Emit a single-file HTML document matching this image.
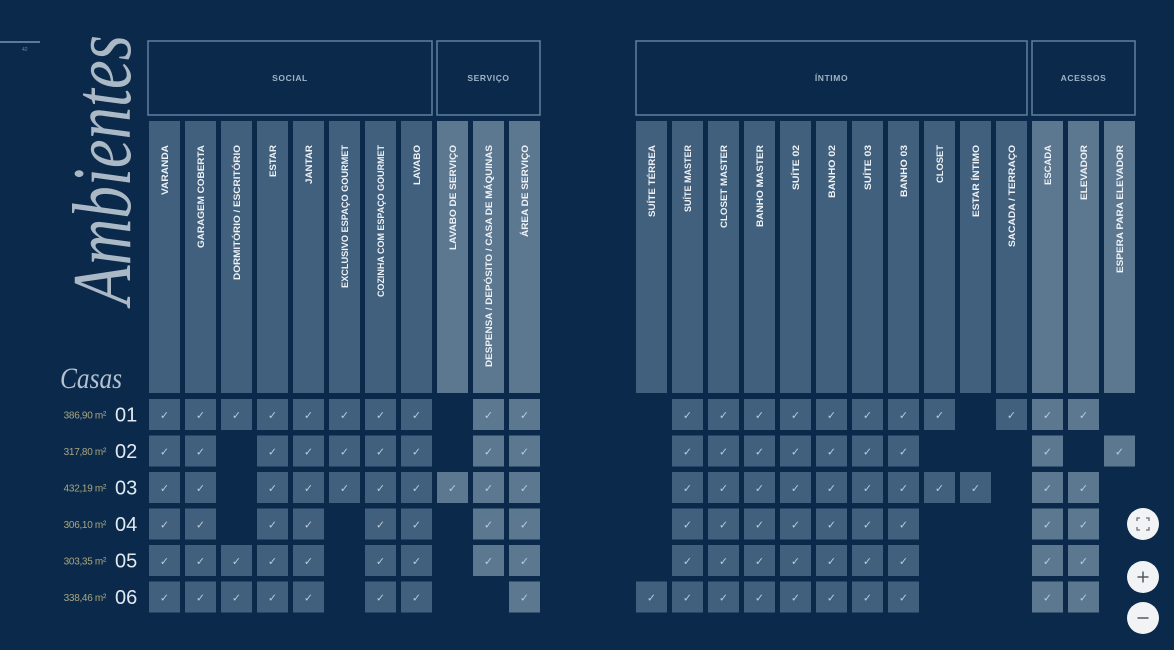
<!DOCTYPE html>
<html><head><meta charset="utf-8">
<style>
html,body{margin:0;padding:0;background:#0b2a4b;}
svg{display:block;}
.d{fill:#41607d;}
.l{fill:#5c7891;}
.c{font-family:"DejaVu Sans",sans-serif;font-size:11px;fill:#bccad7;text-anchor:middle;}
.cl{font-family:"Liberation Sans",sans-serif;font-weight:bold;font-size:9.5px;fill:#eef2f6;}
.hb{fill:none;stroke:#5b7b99;stroke-width:1.6;}
.ht{font-family:"Liberation Sans",sans-serif;font-weight:bold;font-size:8.5px;fill:#9fb3c6;text-anchor:middle;letter-spacing:0.6px;}
.ar{font-family:"Liberation Sans",sans-serif;font-size:10px;fill:#a9a67e;text-anchor:end;letter-spacing:-0.3px;}
.nm{font-family:"Liberation Sans",sans-serif;font-size:20px;fill:#e3e9ef;}
</style></head>
<body>
<svg width="1174" height="650" viewBox="0 0 1174 650" xmlns="http://www.w3.org/2000/svg">
<rect width="1174" height="650" fill="#0b2a4b"/>
<rect x="0" y="41" width="40" height="2" fill="#5d7b96"/>
<text x="22" y="51" font-family="Liberation Sans" font-size="5" fill="#7088a0">42</text>

<!-- Script titles -->
<text transform="translate(130,305) rotate(-90)" font-family="Liberation Serif" font-style="italic" font-size="84" textLength="270" lengthAdjust="spacingAndGlyphs" fill="#d3dce5" fill-opacity="0.8">Ambientes</text>
<text x="60" y="388" font-family="Liberation Serif" font-style="italic" font-size="30" textLength="62" lengthAdjust="spacingAndGlyphs" fill="#d3dce5" fill-opacity="0.85">Casas</text>

<!-- Header boxes -->
<rect class="hb" x="148" y="41" width="284" height="74"/>
<rect class="hb" x="437" y="41" width="103" height="74"/>
<rect class="hb" x="636" y="41" width="391" height="74"/>
<rect class="hb" x="1032" y="41" width="103" height="74"/>
<text class="ht" x="290" y="81">SOCIAL</text>
<text class="ht" x="488.5" y="81">SERVIÇO</text>
<text class="ht" x="831.5" y="81">ÍNTIMO</text>
<text class="ht" x="1083.5" y="81">ACESSOS</text>

<!-- Column bars left -->
<rect class="d" x="149" y="121" width="31" height="272"/>
<rect class="d" x="185" y="121" width="31" height="272"/>
<rect class="d" x="221" y="121" width="31" height="272"/>
<rect class="d" x="257" y="121" width="31" height="272"/>
<rect class="d" x="293" y="121" width="31" height="272"/>
<rect class="d" x="329" y="121" width="31" height="272"/>
<rect class="d" x="365" y="121" width="31" height="272"/>
<rect class="d" x="401" y="121" width="31" height="272"/>
<rect class="l" x="437" y="121" width="31" height="272"/>
<rect class="l" x="473" y="121" width="31" height="272"/>
<rect class="l" x="509" y="121" width="31" height="272"/>
<!-- Column bars right -->
<rect class="d" x="636" y="121" width="31" height="272"/>
<rect class="d" x="672" y="121" width="31" height="272"/>
<rect class="d" x="708" y="121" width="31" height="272"/>
<rect class="d" x="744" y="121" width="31" height="272"/>
<rect class="d" x="780" y="121" width="31" height="272"/>
<rect class="d" x="816" y="121" width="31" height="272"/>
<rect class="d" x="852" y="121" width="31" height="272"/>
<rect class="d" x="888" y="121" width="31" height="272"/>
<rect class="d" x="924" y="121" width="31" height="272"/>
<rect class="d" x="960" y="121" width="31" height="272"/>
<rect class="d" x="996" y="121" width="31" height="272"/>
<rect class="l" x="1032" y="121" width="31" height="272"/>
<rect class="l" x="1068" y="121" width="31" height="272"/>
<rect class="l" x="1104" y="121" width="31" height="272"/>

<!-- Column labels left -->
<text class="cl" transform="translate(168,195) rotate(-90)" textLength="50" lengthAdjust="spacingAndGlyphs">VARANDA</text>
<text class="cl" transform="translate(204,248) rotate(-90)" textLength="103" lengthAdjust="spacingAndGlyphs">GARAGEM COBERTA</text>
<text class="cl" transform="translate(240,280) rotate(-90)" textLength="135" lengthAdjust="spacingAndGlyphs">DORMITÓRIO / ESCRITÓRIO</text>
<text class="cl" transform="translate(276,177) rotate(-90)" textLength="32" lengthAdjust="spacingAndGlyphs">ESTAR</text>
<text class="cl" transform="translate(312,184) rotate(-90)" textLength="39" lengthAdjust="spacingAndGlyphs">JANTAR</text>
<text class="cl" transform="translate(348,288) rotate(-90)" textLength="143" lengthAdjust="spacingAndGlyphs">EXCLUSIVO ESPAÇO GOURMET</text>
<text class="cl" transform="translate(384,297) rotate(-90)" textLength="152" lengthAdjust="spacingAndGlyphs">COZINHA COM ESPAÇO GOURMET</text>
<text class="cl" transform="translate(420,185) rotate(-90)" textLength="40" lengthAdjust="spacingAndGlyphs">LAVABO</text>
<text class="cl" transform="translate(456,250) rotate(-90)" textLength="105" lengthAdjust="spacingAndGlyphs">LAVABO DE SERVIÇO</text>
<text class="cl" transform="translate(492,367) rotate(-90)" textLength="222" lengthAdjust="spacingAndGlyphs">DESPENSA / DEPÓSITO / CASA DE MÁQUINAS</text>
<text class="cl" transform="translate(528,237) rotate(-90)" textLength="92" lengthAdjust="spacingAndGlyphs">ÁREA DE SERVIÇO</text>
<!-- Column labels right -->
<text class="cl" transform="translate(655,217) rotate(-90)" textLength="72" lengthAdjust="spacingAndGlyphs">SUÍTE TÉRREA</text>
<text class="cl" transform="translate(691,212) rotate(-90)" textLength="67" lengthAdjust="spacingAndGlyphs">SUÍTE MASTER</text>
<text class="cl" transform="translate(727,228) rotate(-90)" textLength="83" lengthAdjust="spacingAndGlyphs">CLOSET MASTER</text>
<text class="cl" transform="translate(763,227) rotate(-90)" textLength="82" lengthAdjust="spacingAndGlyphs">BANHO MASTER</text>
<text class="cl" transform="translate(799,190) rotate(-90)" textLength="45" lengthAdjust="spacingAndGlyphs">SUÍTE 02</text>
<text class="cl" transform="translate(835,198) rotate(-90)" textLength="53" lengthAdjust="spacingAndGlyphs">BANHO 02</text>
<text class="cl" transform="translate(871,190) rotate(-90)" textLength="45" lengthAdjust="spacingAndGlyphs">SUÍTE 03</text>
<text class="cl" transform="translate(907,197) rotate(-90)" textLength="52" lengthAdjust="spacingAndGlyphs">BANHO 03</text>
<text class="cl" transform="translate(943,183) rotate(-90)" textLength="38" lengthAdjust="spacingAndGlyphs">CLOSET</text>
<text class="cl" transform="translate(979,217) rotate(-90)" textLength="72" lengthAdjust="spacingAndGlyphs">ESTAR ÍNTIMO</text>
<text class="cl" transform="translate(1015,247) rotate(-90)" textLength="102" lengthAdjust="spacingAndGlyphs">SACADA / TERRAÇO</text>
<text class="cl" transform="translate(1051,185) rotate(-90)" textLength="40" lengthAdjust="spacingAndGlyphs">ESCADA</text>
<text class="cl" transform="translate(1087,200) rotate(-90)" textLength="55" lengthAdjust="spacingAndGlyphs">ELEVADOR</text>
<text class="cl" transform="translate(1123,273) rotate(-90)" textLength="128" lengthAdjust="spacingAndGlyphs">ESPERA PARA ELEVADOR</text>

<!-- Row labels -->
<text class="ar" x="106" y="418.5">386,90 m²</text><text class="nm" x="115" y="421.5">01</text>
<text class="ar" x="106" y="455">317,80 m²</text><text class="nm" x="115" y="458">02</text>
<text class="ar" x="106" y="491.5">432,19 m²</text><text class="nm" x="115" y="494.5">03</text>
<text class="ar" x="106" y="528">306,10 m²</text><text class="nm" x="115" y="531">04</text>
<text class="ar" x="106" y="564.5">303,35 m²</text><text class="nm" x="115" y="567.5">05</text>
<text class="ar" x="106" y="601">338,46 m²</text><text class="nm" x="115" y="604">06</text>

<!-- Row 01 -->
<rect class="d" x="149" y="399" width="31" height="31"/><text class="c" x="164.5" y="419">✓</text>
<rect class="d" x="185" y="399" width="31" height="31"/><text class="c" x="200.5" y="419">✓</text>
<rect class="d" x="221" y="399" width="31" height="31"/><text class="c" x="236.5" y="419">✓</text>
<rect class="d" x="257" y="399" width="31" height="31"/><text class="c" x="272.5" y="419">✓</text>
<rect class="d" x="293" y="399" width="31" height="31"/><text class="c" x="308.5" y="419">✓</text>
<rect class="d" x="329" y="399" width="31" height="31"/><text class="c" x="344.5" y="419">✓</text>
<rect class="d" x="365" y="399" width="31" height="31"/><text class="c" x="380.5" y="419">✓</text>
<rect class="d" x="401" y="399" width="31" height="31"/><text class="c" x="416.5" y="419">✓</text>
<rect class="l" x="473" y="399" width="31" height="31"/><text class="c" x="488.5" y="419">✓</text>
<rect class="l" x="509" y="399" width="31" height="31"/><text class="c" x="524.5" y="419">✓</text>
<rect class="d" x="672" y="399" width="31" height="31"/><text class="c" x="687.5" y="419">✓</text>
<rect class="d" x="708" y="399" width="31" height="31"/><text class="c" x="723.5" y="419">✓</text>
<rect class="d" x="744" y="399" width="31" height="31"/><text class="c" x="759.5" y="419">✓</text>
<rect class="d" x="780" y="399" width="31" height="31"/><text class="c" x="795.5" y="419">✓</text>
<rect class="d" x="816" y="399" width="31" height="31"/><text class="c" x="831.5" y="419">✓</text>
<rect class="d" x="852" y="399" width="31" height="31"/><text class="c" x="867.5" y="419">✓</text>
<rect class="d" x="888" y="399" width="31" height="31"/><text class="c" x="903.5" y="419">✓</text>
<rect class="d" x="924" y="399" width="31" height="31"/><text class="c" x="939.5" y="419">✓</text>
<rect class="d" x="996" y="399" width="31" height="31"/><text class="c" x="1011.5" y="419">✓</text>
<rect class="l" x="1032" y="399" width="31" height="31"/><text class="c" x="1047.5" y="419">✓</text>
<rect class="l" x="1068" y="399" width="31" height="31"/><text class="c" x="1083.5" y="419">✓</text>

<!-- Row 02 -->
<rect class="d" x="149" y="435.5" width="31" height="31"/><text class="c" x="164.5" y="455.5">✓</text>
<rect class="d" x="185" y="435.5" width="31" height="31"/><text class="c" x="200.5" y="455.5">✓</text>
<rect class="d" x="257" y="435.5" width="31" height="31"/><text class="c" x="272.5" y="455.5">✓</text>
<rect class="d" x="293" y="435.5" width="31" height="31"/><text class="c" x="308.5" y="455.5">✓</text>
<rect class="d" x="329" y="435.5" width="31" height="31"/><text class="c" x="344.5" y="455.5">✓</text>
<rect class="d" x="365" y="435.5" width="31" height="31"/><text class="c" x="380.5" y="455.5">✓</text>
<rect class="d" x="401" y="435.5" width="31" height="31"/><text class="c" x="416.5" y="455.5">✓</text>
<rect class="l" x="473" y="435.5" width="31" height="31"/><text class="c" x="488.5" y="455.5">✓</text>
<rect class="l" x="509" y="435.5" width="31" height="31"/><text class="c" x="524.5" y="455.5">✓</text>
<rect class="d" x="672" y="435.5" width="31" height="31"/><text class="c" x="687.5" y="455.5">✓</text>
<rect class="d" x="708" y="435.5" width="31" height="31"/><text class="c" x="723.5" y="455.5">✓</text>
<rect class="d" x="744" y="435.5" width="31" height="31"/><text class="c" x="759.5" y="455.5">✓</text>
<rect class="d" x="780" y="435.5" width="31" height="31"/><text class="c" x="795.5" y="455.5">✓</text>
<rect class="d" x="816" y="435.5" width="31" height="31"/><text class="c" x="831.5" y="455.5">✓</text>
<rect class="d" x="852" y="435.5" width="31" height="31"/><text class="c" x="867.5" y="455.5">✓</text>
<rect class="d" x="888" y="435.5" width="31" height="31"/><text class="c" x="903.5" y="455.5">✓</text>
<rect class="l" x="1032" y="435.5" width="31" height="31"/><text class="c" x="1047.5" y="455.5">✓</text>
<rect class="l" x="1104" y="435.5" width="31" height="31"/><text class="c" x="1119.5" y="455.5">✓</text>

<!-- Row 03 -->
<rect class="d" x="149" y="472" width="31" height="31"/><text class="c" x="164.5" y="492">✓</text>
<rect class="d" x="185" y="472" width="31" height="31"/><text class="c" x="200.5" y="492">✓</text>
<rect class="d" x="257" y="472" width="31" height="31"/><text class="c" x="272.5" y="492">✓</text>
<rect class="d" x="293" y="472" width="31" height="31"/><text class="c" x="308.5" y="492">✓</text>
<rect class="d" x="329" y="472" width="31" height="31"/><text class="c" x="344.5" y="492">✓</text>
<rect class="d" x="365" y="472" width="31" height="31"/><text class="c" x="380.5" y="492">✓</text>
<rect class="d" x="401" y="472" width="31" height="31"/><text class="c" x="416.5" y="492">✓</text>
<rect class="l" x="437" y="472" width="31" height="31"/><text class="c" x="452.5" y="492">✓</text>
<rect class="l" x="473" y="472" width="31" height="31"/><text class="c" x="488.5" y="492">✓</text>
<rect class="l" x="509" y="472" width="31" height="31"/><text class="c" x="524.5" y="492">✓</text>
<rect class="d" x="672" y="472" width="31" height="31"/><text class="c" x="687.5" y="492">✓</text>
<rect class="d" x="708" y="472" width="31" height="31"/><text class="c" x="723.5" y="492">✓</text>
<rect class="d" x="744" y="472" width="31" height="31"/><text class="c" x="759.5" y="492">✓</text>
<rect class="d" x="780" y="472" width="31" height="31"/><text class="c" x="795.5" y="492">✓</text>
<rect class="d" x="816" y="472" width="31" height="31"/><text class="c" x="831.5" y="492">✓</text>
<rect class="d" x="852" y="472" width="31" height="31"/><text class="c" x="867.5" y="492">✓</text>
<rect class="d" x="888" y="472" width="31" height="31"/><text class="c" x="903.5" y="492">✓</text>
<rect class="d" x="924" y="472" width="31" height="31"/><text class="c" x="939.5" y="492">✓</text>
<rect class="d" x="960" y="472" width="31" height="31"/><text class="c" x="975.5" y="492">✓</text>
<rect class="l" x="1032" y="472" width="31" height="31"/><text class="c" x="1047.5" y="492">✓</text>
<rect class="l" x="1068" y="472" width="31" height="31"/><text class="c" x="1083.5" y="492">✓</text>

<!-- Row 04 -->
<rect class="d" x="149" y="508.5" width="31" height="31"/><text class="c" x="164.5" y="528.5">✓</text>
<rect class="d" x="185" y="508.5" width="31" height="31"/><text class="c" x="200.5" y="528.5">✓</text>
<rect class="d" x="257" y="508.5" width="31" height="31"/><text class="c" x="272.5" y="528.5">✓</text>
<rect class="d" x="293" y="508.5" width="31" height="31"/><text class="c" x="308.5" y="528.5">✓</text>
<rect class="d" x="365" y="508.5" width="31" height="31"/><text class="c" x="380.5" y="528.5">✓</text>
<rect class="d" x="401" y="508.5" width="31" height="31"/><text class="c" x="416.5" y="528.5">✓</text>
<rect class="l" x="473" y="508.5" width="31" height="31"/><text class="c" x="488.5" y="528.5">✓</text>
<rect class="l" x="509" y="508.5" width="31" height="31"/><text class="c" x="524.5" y="528.5">✓</text>
<rect class="d" x="672" y="508.5" width="31" height="31"/><text class="c" x="687.5" y="528.5">✓</text>
<rect class="d" x="708" y="508.5" width="31" height="31"/><text class="c" x="723.5" y="528.5">✓</text>
<rect class="d" x="744" y="508.5" width="31" height="31"/><text class="c" x="759.5" y="528.5">✓</text>
<rect class="d" x="780" y="508.5" width="31" height="31"/><text class="c" x="795.5" y="528.5">✓</text>
<rect class="d" x="816" y="508.5" width="31" height="31"/><text class="c" x="831.5" y="528.5">✓</text>
<rect class="d" x="852" y="508.5" width="31" height="31"/><text class="c" x="867.5" y="528.5">✓</text>
<rect class="d" x="888" y="508.5" width="31" height="31"/><text class="c" x="903.5" y="528.5">✓</text>
<rect class="l" x="1032" y="508.5" width="31" height="31"/><text class="c" x="1047.5" y="528.5">✓</text>
<rect class="l" x="1068" y="508.5" width="31" height="31"/><text class="c" x="1083.5" y="528.5">✓</text>

<!-- Row 05 -->
<rect class="d" x="149" y="545" width="31" height="31"/><text class="c" x="164.5" y="565">✓</text>
<rect class="d" x="185" y="545" width="31" height="31"/><text class="c" x="200.5" y="565">✓</text>
<rect class="d" x="221" y="545" width="31" height="31"/><text class="c" x="236.5" y="565">✓</text>
<rect class="d" x="257" y="545" width="31" height="31"/><text class="c" x="272.5" y="565">✓</text>
<rect class="d" x="293" y="545" width="31" height="31"/><text class="c" x="308.5" y="565">✓</text>
<rect class="d" x="365" y="545" width="31" height="31"/><text class="c" x="380.5" y="565">✓</text>
<rect class="d" x="401" y="545" width="31" height="31"/><text class="c" x="416.5" y="565">✓</text>
<rect class="l" x="473" y="545" width="31" height="31"/><text class="c" x="488.5" y="565">✓</text>
<rect class="l" x="509" y="545" width="31" height="31"/><text class="c" x="524.5" y="565">✓</text>
<rect class="d" x="672" y="545" width="31" height="31"/><text class="c" x="687.5" y="565">✓</text>
<rect class="d" x="708" y="545" width="31" height="31"/><text class="c" x="723.5" y="565">✓</text>
<rect class="d" x="744" y="545" width="31" height="31"/><text class="c" x="759.5" y="565">✓</text>
<rect class="d" x="780" y="545" width="31" height="31"/><text class="c" x="795.5" y="565">✓</text>
<rect class="d" x="816" y="545" width="31" height="31"/><text class="c" x="831.5" y="565">✓</text>
<rect class="d" x="852" y="545" width="31" height="31"/><text class="c" x="867.5" y="565">✓</text>
<rect class="d" x="888" y="545" width="31" height="31"/><text class="c" x="903.5" y="565">✓</text>
<rect class="l" x="1032" y="545" width="31" height="31"/><text class="c" x="1047.5" y="565">✓</text>
<rect class="l" x="1068" y="545" width="31" height="31"/><text class="c" x="1083.5" y="565">✓</text>

<!-- Row 06 -->
<rect class="d" x="149" y="581.5" width="31" height="31"/><text class="c" x="164.5" y="601.5">✓</text>
<rect class="d" x="185" y="581.5" width="31" height="31"/><text class="c" x="200.5" y="601.5">✓</text>
<rect class="d" x="221" y="581.5" width="31" height="31"/><text class="c" x="236.5" y="601.5">✓</text>
<rect class="d" x="257" y="581.5" width="31" height="31"/><text class="c" x="272.5" y="601.5">✓</text>
<rect class="d" x="293" y="581.5" width="31" height="31"/><text class="c" x="308.5" y="601.5">✓</text>
<rect class="d" x="365" y="581.5" width="31" height="31"/><text class="c" x="380.5" y="601.5">✓</text>
<rect class="d" x="401" y="581.5" width="31" height="31"/><text class="c" x="416.5" y="601.5">✓</text>
<rect class="l" x="509" y="581.5" width="31" height="31"/><text class="c" x="524.5" y="601.5">✓</text>
<rect class="d" x="636" y="581.5" width="31" height="31"/><text class="c" x="651.5" y="601.5">✓</text>
<rect class="d" x="672" y="581.5" width="31" height="31"/><text class="c" x="687.5" y="601.5">✓</text>
<rect class="d" x="708" y="581.5" width="31" height="31"/><text class="c" x="723.5" y="601.5">✓</text>
<rect class="d" x="744" y="581.5" width="31" height="31"/><text class="c" x="759.5" y="601.5">✓</text>
<rect class="d" x="780" y="581.5" width="31" height="31"/><text class="c" x="795.5" y="601.5">✓</text>
<rect class="d" x="816" y="581.5" width="31" height="31"/><text class="c" x="831.5" y="601.5">✓</text>
<rect class="d" x="852" y="581.5" width="31" height="31"/><text class="c" x="867.5" y="601.5">✓</text>
<rect class="d" x="888" y="581.5" width="31" height="31"/><text class="c" x="903.5" y="601.5">✓</text>
<rect class="l" x="1032" y="581.5" width="31" height="31"/><text class="c" x="1047.5" y="601.5">✓</text>
<rect class="l" x="1068" y="581.5" width="31" height="31"/><text class="c" x="1083.5" y="601.5">✓</text>

<!-- Zoom buttons -->
<circle cx="1143" cy="524" r="16" fill="#f2f3f5"/>
<path d="M1137 521 v-3 h3 M1146 518 h3 v3 M1149 527 v3 h-3 M1140 530 h-3 v-3" fill="none" stroke="#6b6f75" stroke-width="1.3"/>
<circle cx="1143" cy="577" r="16" fill="#f2f3f5"/>
<path d="M1137.5 577 h11 M1143 571.5 v11" stroke="#55595f" stroke-width="1.5"/>
<circle cx="1143" cy="618" r="16" fill="#f2f3f5"/>
<path d="M1137.5 618 h11" stroke="#55595f" stroke-width="1.5"/>
</svg>
</body></html>
